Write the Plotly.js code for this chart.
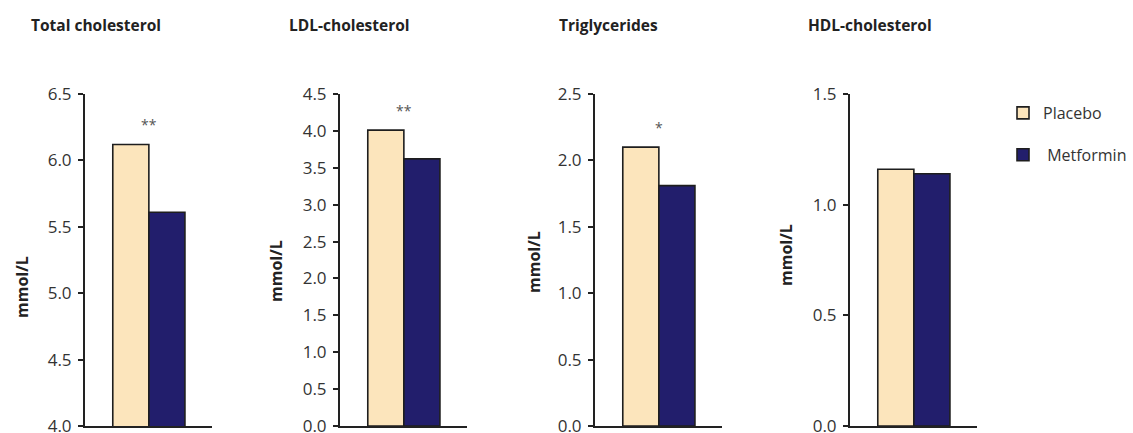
<!DOCTYPE html>
<html>
<head>
<meta charset="utf-8">
<script src="https://cdn.plot.ly/plotly-3.0.1.min.js"></script>
<style>html,body{margin:0;padding:0;background:#fff;}#chart{width:1133px;height:433px;}</style>
</head>
<body>
<div id="chart"></div>
<script>
// ---- data ----
const panelTitles = ['Total cholesterol', 'LDL-cholesterol', 'Triglycerides', 'HDL-cholesterol'];
const groups = ['Placebo', 'Metformin'];
const placebo = [6.12, 4.01, 2.10, 1.16];
const metformin = [5.61, 3.62, 1.81, 1.14];
const significance = ['**', '**', '*', ''];
const yMin = [4.0, 0.0, 0.0, 0.0];
const yMax = [6.5, 4.5, 2.5, 1.5];
const yTitle = 'mmol/L';

// ---- layout / style ----
const W = 1133, H = 433;
const colors = ['#FCE5BC', '#221E6C'];
const axisLeft = [85, 340, 595, 850];   // px
const axisWidth = 127;
const yTop = 94, yBot = 426;
const titleLeft = [29, 287, 557, 806];
const yTitleX = [22, 276, 534, 786];
const yTitleY = [287, 271, 262, 255];
const FONT = 'Open Sans, Noto Sans, sans-serif';

const traces = [];
const layout = {
  width: W, height: H,
  margin: {l: 0, r: 0, t: 0, b: 0},
  paper_bgcolor: '#fff', plot_bgcolor: '#fff',
  barmode: 'overlay',
  showlegend: true,
  legend: {
    x: 1003 / W, y: 1 - 96 / H, xanchor: 'left', yanchor: 'top',
    font: {family: FONT, size: 16, color: '#333'},
    traceorder: 'grouped', tracegroupgap: 18,
    bgcolor: 'rgba(0,0,0,0)'
  },
  annotations: [],
  font: {family: FONT, color: '#333'}
};

panelTitles.forEach((t, i) => {
  const n = i === 0 ? '' : String(i + 1);
  const xa = 'x' + n, ya = 'y' + n;
  [placebo, metformin].forEach((vals, g) => {
    traces.push({
      type: 'bar',
      x: [g], y: [vals[i]], width: [1],
      name: g === 0 ? groups[g] : ' ' + groups[g],
      legendgroup: groups[g],
      showlegend: i === 0,
      marker: {color: colors[g], line: {color: '#1e1e1e', width: 1.6}},
      xaxis: xa, yaxis: ya,
      hoverinfo: 'y'
    });
  });
  layout['xaxis' + n] = {
    domain: [axisLeft[i] / W, (axisLeft[i] + axisWidth) / W],
    range: [-1.27, 2.25],
    showgrid: false, zeroline: false, showticklabels: false, ticks: '',
    showline: true, linecolor: '#222', linewidth: 2,
    anchor: ya, fixedrange: true
  };
  layout['yaxis' + n] = {
    domain: [1 - yBot / H, 1 - yTop / H],
    range: [yMin[i], yMax[i]],
    tick0: yMin[i], dtick: 0.5, tickformat: '.1f',
    ticks: 'outside', ticklen: 5, tickwidth: 2, tickcolor: '#222',
    ticklabelstandoff: 3, ticklabeloverflow: 'allow',
    showline: true, linecolor: '#222', linewidth: 2,
    showgrid: false, zeroline: false,
    tickfont: {family: FONT, size: 17, color: '#333'},
    anchor: xa, fixedrange: true
  };
  // panel title
  layout.annotations.push({
    xref: 'paper', yref: 'paper', x: titleLeft[i] / W, y: 1 - 25 / H,
    xanchor: 'left', yanchor: 'middle', showarrow: false,
    text: '<b>' + t + '</b>',
    font: {family: FONT, size: 15.5, color: '#222'}
  });
  // y title
  layout.annotations.push({
    xref: 'paper', yref: 'paper', x: yTitleX[i] / W, y: 1 - yTitleY[i] / H,
    xanchor: 'center', yanchor: 'middle', showarrow: false, textangle: -90,
    text: '<b>' + yTitle + '</b>',
    font: {family: FONT, size: 16, color: '#222'}
  });
  // significance
  if (significance[i]) {
    layout.annotations.push({
      xref: xa, yref: ya, x: 0.5, y: Math.max(placebo[i], metformin[i]),
      yshift: 20, xanchor: 'center', yanchor: 'middle', showarrow: false,
      text: significance[i],
      font: {family: FONT, size: 14, color: '#555'}
    });
  }
});

Plotly.newPlot('chart', traces, layout, {displayModeBar: false, staticPlot: true});
</script>
</body>
</html>
